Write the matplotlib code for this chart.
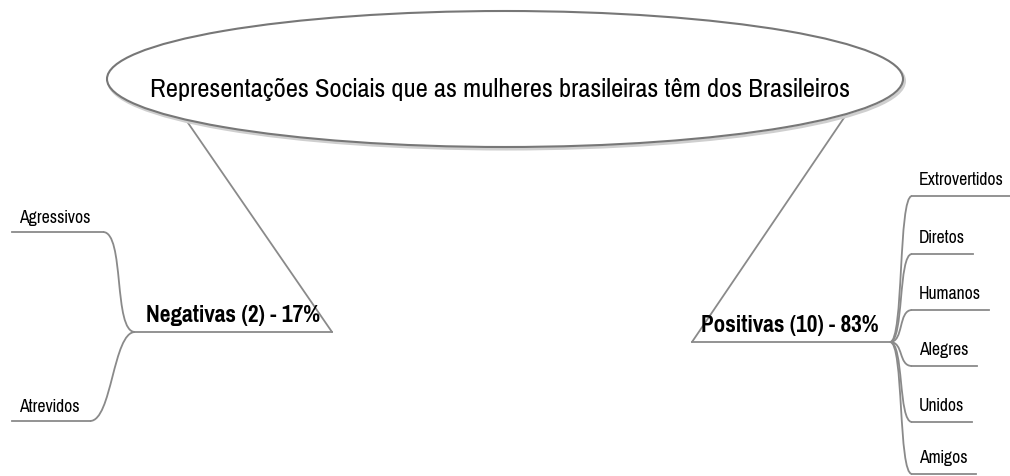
import matplotlib
matplotlib.use("Agg")
import matplotlib.pyplot as plt
from matplotlib.patches import Ellipse, PathPatch
from matplotlib.path import Path

# ---- data ----
title = "Representações Sociais que as mulheres brasileiras têm dos Brasileiros"
groups = ["Negativas", "Positivas"]
counts = [2, 10]
percents = [17, 83]
negative_items = ["Agressivos", "Atrevidos"]
positive_items = ["Extrovertidos", "Diretos", "Humanos", "Alegres", "Unidos", "Amigos"]

# ---- layout (pixel coordinates, y downward) ----
W, H = 1010, 477
FONT = ['Pragati Narrow', 'Roboto Condensed', 'Liberation Sans', 'DejaVu Sans']
LINE = '#8a8a8a'
LW = 1.3

fig = plt.figure(figsize=(W / 100, H / 100), dpi=100)
ax = fig.add_axes([0, 0, 1, 1])
ax.set_xlim(0, W)
ax.set_ylim(H, 0)
ax.axis('off')
renderer = fig.canvas.get_renderer()


def fit(t, target):
    """scale the font so the text spans the target width in pixels"""
    w = t.get_window_extent(renderer).width
    t.set_fontsize(t.get_fontsize() * target / w)
    return t


# root ellipse
ell_c, ell_w, ell_h = (505, 80), 796, 136
ax.add_patch(Ellipse((ell_c[0] + 1.5, ell_c[1] + 2), ell_w, ell_h, facecolor='none',
                     edgecolor='#cfcfcf', lw=2.2, zorder=2))
ax.add_patch(Ellipse(ell_c, ell_w, ell_h, facecolor='white', edgecolor='#777777', lw=1.5, zorder=3))
fit(ax.text(500, 97, title, ha='center', va='baseline', fontsize=20, family=FONT,
            color='black', zorder=4), 700)

# group nodes
nodes = [
    dict(x0=135, x1=332, y=333, cx=332, ex=175, ey=105, tx=146, tw=174),
    dict(x0=692, x1=890, y=343, cx=692, ex=850, ey=110, tx=701, tw=178),
]
for i, nd in enumerate(nodes):
    label = f"{groups[i]} ({counts[i]}) - {percents[i]}%"
    ax.plot([nd['ex'], nd['cx']], [nd['ey'], nd['y']], color=LINE, lw=LW, zorder=1,
            solid_capstyle='round')
    ax.plot([nd['x0'], nd['x1']], [nd['y'], nd['y']], color=LINE, lw=LW, zorder=1)
    fit(ax.text(nd['tx'], nd['y'] - 11, label, ha='left', va='baseline', fontsize=18,
                fontweight='bold', family=FONT, color='black', zorder=4), nd['tw'])


def curve(p0, p3, bend):
    (x0, y0), (x3, y3) = p0, p3
    verts = [(x0, y0), (x0 + bend, y0), (x3 - bend, y3), (x3, y3)]
    codes = [Path.MOVETO, Path.CURVE4, Path.CURVE4, Path.CURVE4]
    ax.add_patch(PathPatch(Path(verts, codes), facecolor='none', edgecolor=LINE, lw=LW, zorder=1))


# child font size: fit "Extrovertidos" to its width in the reference
probe = fit(ax.text(919, 185, positive_items[0], ha='left', va='baseline', fontsize=13,
                    family=FONT, color='black'), 84)
CHILD_FS = probe.get_fontsize()
probe.remove()

# negative children (left side)
neg_y = [233, 422]
neg_end = [103, 90]
for name, y, xe in zip(negative_items, neg_y, neg_end):
    ax.text(19, y - 10, name, ha='left', va='baseline', fontsize=CHILD_FS, family=FONT, color='black')
    ax.plot([12, xe], [y, y], color=LINE, lw=LW, zorder=1)
    curve((nodes[0]['x0'], nodes[0]['y']), (xe, y), -22)

# positive children (right side)
pos_y = [197, 255, 311, 367, 423, 475]
for name, y in zip(positive_items, pos_y):
    t = ax.text(919, y - 12, name, ha='left', va='baseline', fontsize=CHILD_FS, family=FONT,
                color='black')
    bb = t.get_window_extent(renderer)
    xe = min(bb.x1 + 8, W)
    ax.plot([912, xe], [y, y], color=LINE, lw=LW, zorder=1)
    curve((nodes[1]['x1'], nodes[1]['y']), (912, y), 14)

fig.savefig('out.png', dpi=100, facecolor='white')
